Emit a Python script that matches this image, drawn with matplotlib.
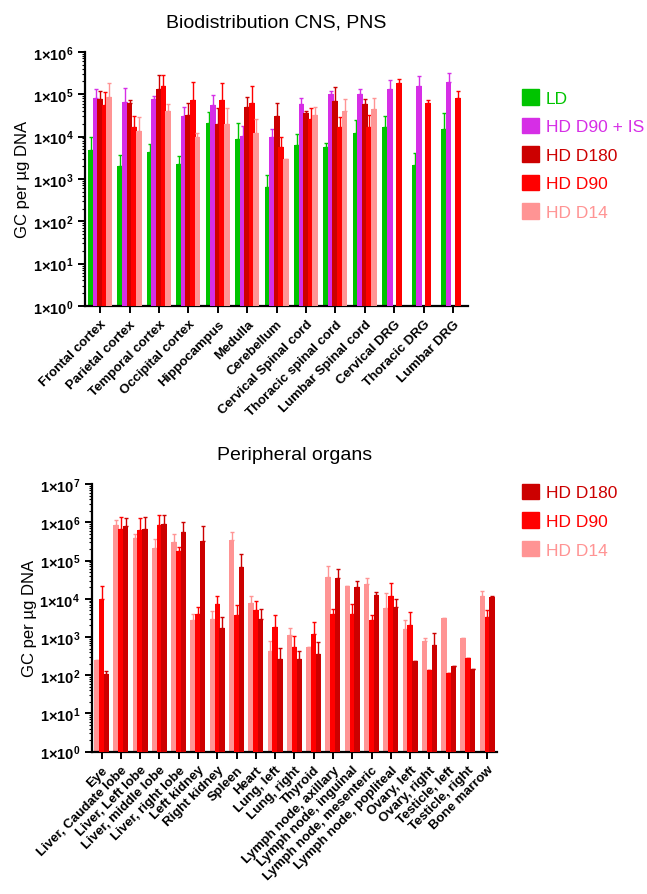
import numpy as np
import matplotlib
matplotlib.use("Agg")
import matplotlib.pyplot as plt
from matplotlib.patches import Patch

plt.rcParams['font.family'] = ['Liberation Sans', 'DejaVu Sans']
plt.rcParams['mathtext.fontset'] = 'custom'
plt.rcParams['mathtext.rm'] = 'Liberation Sans'
plt.rcParams['mathtext.bf'] = 'Liberation Sans:bold'

nan = np.nan

# ---- top panel: CNS / PNS ----
cns_tissues = ["Frontal cortex", "Parietal cortex", "Temporal cortex", "Occipital cortex",
               "Hippocampus", "Medulla", "Cerebellum", "Cervical Spinal cord",
               "Thoracic spinal cord", "Lumbar Spinal cord", "Cervical DRG",
               "Thoracic DRG", "Lumbar DRG"]
cns_ld = [4.7e3, 2.0e3, 4.2e3, 2.2e3, 2.1e4, 8.9e3, 6.6e2, 6.4e3, 5.6e3, 1.23e4, 1.7e4, 2.1e3, 1.5e4]
cns_ld_err = [1.0e4, 3.7e3, 6.7e3, 3.5e3, 3.8e4, 2.1e4, 1.25e3, 1.15e4, 7.1e3, 2.4e4, 3.0e4, 4.1e3, 3.5e4]
cns_is = [8.1e4, 6.7e4, 7.8e4, 3.0e4, 5.5e4, 1.03e4, 1.0e4, 6.0e4, 9.9e4, 1.0e5, 1.3e5, 1.6e5, 1.95e5]
cns_is_err = [1.3e5, 1.4e5, 8.9e4, 5.0e4, 9.8e4, 1.8e4, 1.5e4, 8.1e4, 1.2e5, 1.35e5, 2.2e5, 2.7e5, 3.2e5]
cns_d180 = [7.5e4, 6.3e4, 1.3e5, 3.3e4, 2.0e4, 5.1e4, 3.0e4, 3.5e4, 7.0e4, 5.8e4, nan, nan, nan]
cns_d180_err = [1.2e5, 7.4e4, 2.9e5, 6.2e4, 4.6e4, 8.6e4, 6.3e4, 4.1e4, 1.5e5, 7.8e4, nan, nan, nan]
cns_d90 = [5.5e4, 1.7e4, 1.56e5, 7.1e4, 7.4e4, 6.3e4, 5.8e3, 2.6e4, 1.7e4, 1.7e4, 1.8e5, 6.2e4, 8.1e4]
cns_d90_err = [1.1e5, 3.0e4, 2.9e5, 1.9e5, 1.8e5, 1.56e5, 1.0e4, 4.8e4, 2.9e4, 3.2e4, 2.3e5, 7.1e4, 1.2e5]
cns_d14 = [8.6e4, 1.35e4, 3.9e4, 1.0e4, 2.0e4, 1.2e4, 3.0e3, 3.3e4, 4.1e4, 4.5e4, nan, nan, nan]
cns_d14_err = [1.8e5, 2.9e4, 6.0e4, 1.2e4, 4.6e4, 2.6e4, 3.0e3, 5.0e4, 7.5e4, 8.1e4, nan, nan, nan]

# ---- bottom panel: peripheral organs ----
organs = ["Eye", "Liver, Caudate lobe", "Liver, Left lobe", "Liver, middle lobe",
          "Liver, right lobe", "Left kidney", "Right kidney", "Spleen", "Heart",
          "Lung, left", "Lung, right", "Thyroid", "Lymph node, axillary",
          "Lymph node, inguinal", "Lymph node, mesenteric", "Lymph node, popliteal",
          "Ovary, left", "Ovary, right", "Testicle, left", "Testicle, right", "Bone marrow"]
org_d14 = [2.5e2, 8.5e5, 3.8e5, 2.1e5, 3.1e5, 2.8e3, 3.0e3, 3.4e5, 7.6e3, 4.2e2, 1.1e3,
           5.6e2, 3.8e4, 2.2e4, 2.4e4, 5.6e3, 1.6e3, 7.8e2, 3.2e3, 9.5e2, 1.2e4]
org_d14_err = [2.5e2, 1.14e6, 4.9e5, 3.6e5, 4.9e5, 4.0e3, 4.7e3, 5.6e5, 1.2e4, 8.1e2, 1.7e3,
               5.6e2, 7.3e4, 2.2e4, 3.6e4, 1.4e4, 2.8e3, 9.5e2, 3.2e3, 9.5e2, 1.6e4]
org_d90 = [9.8e3, 6.6e5, 6.3e5, 8.6e5, 1.8e5, 4.0e3, 7.1e3, 3.8e3, 5.0e3, 1.8e3, 5.4e2,
           1.2e3, 3.9e3, 3.9e3, 2.8e3, 1.2e4, 2.1e3, 1.4e2, 1.15e2, 2.8e2, 3.4e3]
org_d90_err = [2.1e4, 1.4e6, 1.3e6, 1.6e6, 2.2e5, 6.0e3, 1.17e4, 6.9e3, 8.9e3, 3.8e3, 1.05e3,
               2.5e3, 5.4e3, 7.3e3, 3.8e3, 2.6e4, 4.5e3, 1.4e2, 1.15e2, 2.8e2, 5.1e3]
org_d180 = [1.1e2, 8.1e5, 6.6e5, 8.9e5, 5.5e5, 3.3e5, 1.7e3, 6.8e4, 3.0e3, 2.6e2, 2.7e2,
            3.5e2, 3.4e4, 2.0e4, 1.26e4, 6.2e3, 2.3e2, 6.2e2, 1.7e2, 1.5e2, 1.1e4]
org_d180_err = [1.26e2, 1.26e6, 1.35e6, 1.6e6, 1.0e6, 8.1e5, 3.3e3, 1.45e5, 5.4e3, 5.2e2, 4.4e2,
                7.6e2, 6.0e4, 2.9e4, 1.5e4, 9.8e3, 2.3e2, 1.3e3, 1.7e2, 1.5e2, 1.2e4]

c_ld = "#00C400"
c_is = "#D62EE6"
c_d180 = "#CC0000"
c_d90 = "#FF0000"
c_d14 = "#FF9494"


def log_ticks(ax, top):
    exps = list(range(0, top + 1))
    ax.set_yticks([10.0 ** e for e in exps])
    ax.set_yticklabels([r"$\mathbf{1{\times}10^{%d}}$" % e for e in exps], fontsize=10.5)


def style(ax):
    for s in ["top", "right"]:
        ax.spines[s].set_visible(False)
    for s in ["left", "bottom"]:
        ax.spines[s].set_linewidth(1.6)
    ax.tick_params(axis="both", which="major", length=5, width=1.4)
    ax.tick_params(axis="y", which="minor", length=2.5, width=0.8)


def grouped(ax, n, series, step, width):
    x = np.arange(n)
    k = len(series)
    for i, (vals, errs, col) in enumerate(series):
        off = (i - (k - 1) / 2) * step
        vals = np.array(vals, dtype=float)
        errs = np.array(errs, dtype=float)
        ax.bar(x + off, vals, width=width, color=col, edgecolor="none", zorder=2 + i)
        up = np.clip(errs - vals, 0, None)
        ax.errorbar(x + off, vals, yerr=[np.zeros(n), up], fmt="none", ecolor=col,
                    elinewidth=1.0, capsize=1.3, capthick=1.0, zorder=2 + i)


fig = plt.figure(figsize=(6.47, 8.95), dpi=100)

# top
ax1 = fig.add_axes([0.132, 0.657, 0.591, 0.284])
grouped(ax1, len(cns_tissues),
        [(cns_ld, cns_ld_err, c_ld), (cns_is, cns_is_err, c_is),
         (cns_d180, cns_d180_err, c_d180), (cns_d90, cns_d90_err, c_d90),
         (cns_d14, cns_d14_err, c_d14)], step=0.155, width=0.2)
ax1.set_yscale("log")
ax1.set_ylim(1, 1e6)
ax1.set_xlim(-0.5, len(cns_tissues) - 0.5)
log_ticks(ax1, 6)
style(ax1)
ax1.set_xticks(np.arange(len(cns_tissues)))
ax1.set_xticklabels(cns_tissues, rotation=45, ha="right", rotation_mode="anchor",
                    fontsize=9.5, fontweight="bold")
ax1.set_ylabel("GC per µg DNA", fontsize=12, labelpad=2)
ax1.set_title("Biodistribution CNS, PNS", fontsize=14, pad=18)

h1 = [Patch(color=c) for c in [c_ld, c_is, c_d180, c_d90, c_d14]]
fig.legend(h1, ["LD", "HD D90 + IS", "HD D180", "HD D90", "HD D14"],
           loc="upper left", bbox_to_anchor=(0.79, 0.911), frameon=False,
           fontsize=12.5, labelcolor=[c_ld, c_is, c_d180, c_d90, c_d14],
           handlelength=1.0, handleheight=1.0, handletextpad=0.4, labelspacing=0.68,
           borderaxespad=0.2)

# bottom
ax2 = fig.add_axes([0.142, 0.159, 0.626, 0.299])
grouped(ax2, len(organs),
        [(org_d14, org_d14_err, c_d14), (org_d90, org_d90_err, c_d90),
         (org_d180, org_d180_err, c_d180)], step=0.25, width=0.28)
ax2.set_yscale("log")
ax2.set_ylim(1, 1e7)
ax2.set_xlim(-0.5, len(organs) - 0.5)
log_ticks(ax2, 7)
style(ax2)
ax2.set_xticks(np.arange(len(organs)))
ax2.set_xticklabels(organs, rotation=45, ha="right", rotation_mode="anchor",
                    fontsize=9.5, fontweight="bold")
ax2.set_ylabel("GC per µg DNA", fontsize=12, labelpad=2)
ax2.set_title("Peripheral organs", fontsize=14, pad=18)

h2 = [Patch(color=c) for c in [c_d180, c_d90, c_d14]]
fig.legend(h2, ["HD D180", "HD D90", "HD D14"],
           loc="upper left", bbox_to_anchor=(0.79, 0.470), frameon=False,
           fontsize=12.5, labelcolor=[c_d180, c_d90, c_d14],
           handlelength=1.0, handleheight=1.0, handletextpad=0.4, labelspacing=0.68,
           borderaxespad=0.2)

fig.savefig("out.png", dpi=100)
